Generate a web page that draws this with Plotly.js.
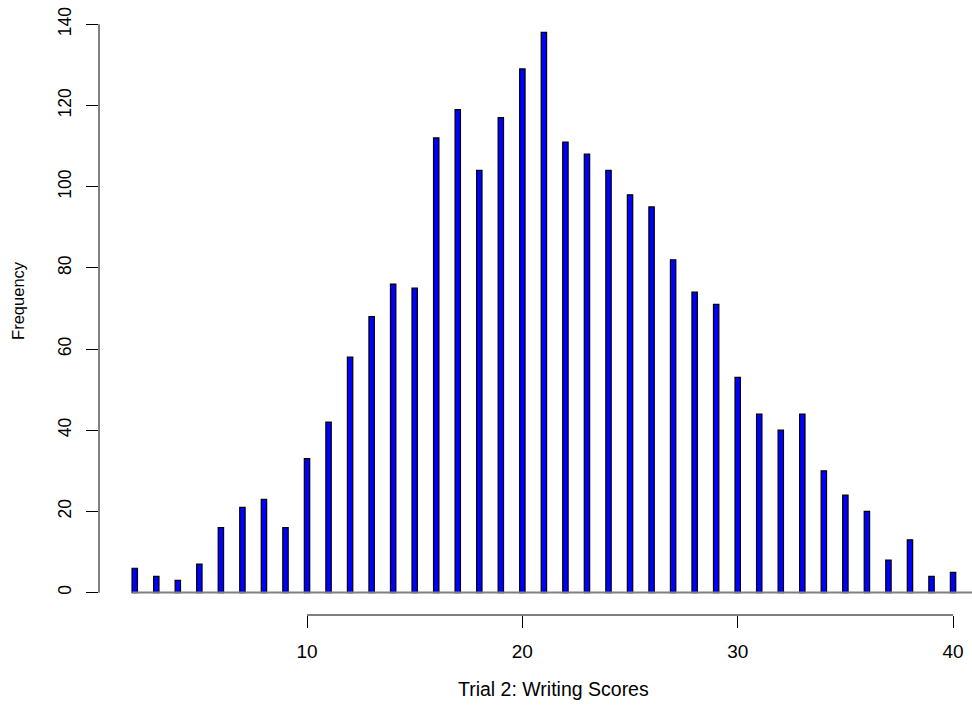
<!DOCTYPE html>
<html>
<head>
<meta charset="utf-8">
<script src="https://cdn.plot.ly/plotly-3.0.1.min.js"></script>
<style>
html,body{margin:0;padding:0;background:#fff;}
#chart{width:972px;height:713px;}
</style>
</head>
<body>
<div id="chart"></div>
<script>
// Scores (x) and their frequencies
const scores = [2,3,4,5,6,7,8,9,10,11,12,13,14,15,16,17,18,19,20,21,22,23,24,25,26,27,28,29,30,31,32,33,34,35,36,37,38,39,40];
const frequency = [6,4,3,7,16,21,23,16,33,42,58,68,76,75,112,119,104,117,129,138,111,108,104,98,95,82,74,71,53,44,40,44,30,24,20,8,13,4,5];
const xTicks = [10,20,30,40];
const yTicks = [0,20,40,60,80,100,120,140];
const xTitle = 'Trial 2: Writing Scores';
const yTitle = 'Frequency';

const fam = 'Liberation Sans, Arial, sans-serif';
const xTickFont = {family: fam, size: 19, color: '#000'};
const yTickFont = {family: fam, size: 17.5, color: '#000'};

const trace = {
  type: 'bar',
  x: scores,
  y: frequency,
  width: 0.25,
  marker: {color: '#0000FF', line: {color: '#000', width: 1.2}},
  hoverinfo: 'x+y'
};

const layout = {
  width: 972, height: 713,
  margin: {l: 99, r: 0, t: 10, b: 98},
  paper_bgcolor: '#fff', plot_bgcolor: '#fff',
  showlegend: false,
  font: {family: fam, size: 16, color: '#000'},
  xaxis: {
    range: [0.34, 40.88],
    tickvals: xTicks, ticktext: xTicks.map(String),
    ticks: 'outside', ticklen: 12, tickwidth: 1, tickcolor: '#000',
    showgrid: false, zeroline: false, showline: false,
    tickfont: xTickFont,
    ticklabelstandoff: 7
  },
  yaxis: {
    range: [-5.52, 143.52],
    tickvals: yTicks, ticktext: yTicks.map(String),
    ticks: 'outside', ticklen: 12, tickwidth: 1, tickcolor: '#000',
    tickangle: -90,
    showgrid: false, zeroline: false, showline: false,
    tickfont: yTickFont,
    ticklabelstandoff: 8
  },
  annotations: [
    {text: xTitle, xref: 'paper', yref: 'paper', x: 0.521, y: -0.1216, xanchor: 'center', yanchor: 'middle',
     showarrow: false, font: {family: fam, size: 19.5, color: '#000'}},
    {text: yTitle, xref: 'paper', yref: 'paper', x: -0.0928, y: 0.5208, xanchor: 'center', yanchor: 'middle',
     textangle: -90, showarrow: false, font: {family: fam, size: 16.5, color: '#000'}}
  ],
  shapes: [
    {type: 'line', xref: 'x', yref: 'paper', x0: xTicks[0], x1: xTicks[xTicks.length-1], y0: 0, y1: 0, line: {color: '#000', width: 1}},
    {type: 'line', xref: 'paper', yref: 'y', x0: 0, x1: 0, y0: yTicks[0], y1: yTicks[yTicks.length-1], line: {color: '#000', width: 1}},
    {type: 'line', xref: 'x', yref: 'y', x0: scores[0] - 0.12, x1: 41, y0: 0, y1: 0, line: {color: '#808080', width: 2}}
  ]
};

Plotly.newPlot('chart', [trace], layout, {displayModeBar: false, staticPlot: true});
</script>
</body>
</html>
